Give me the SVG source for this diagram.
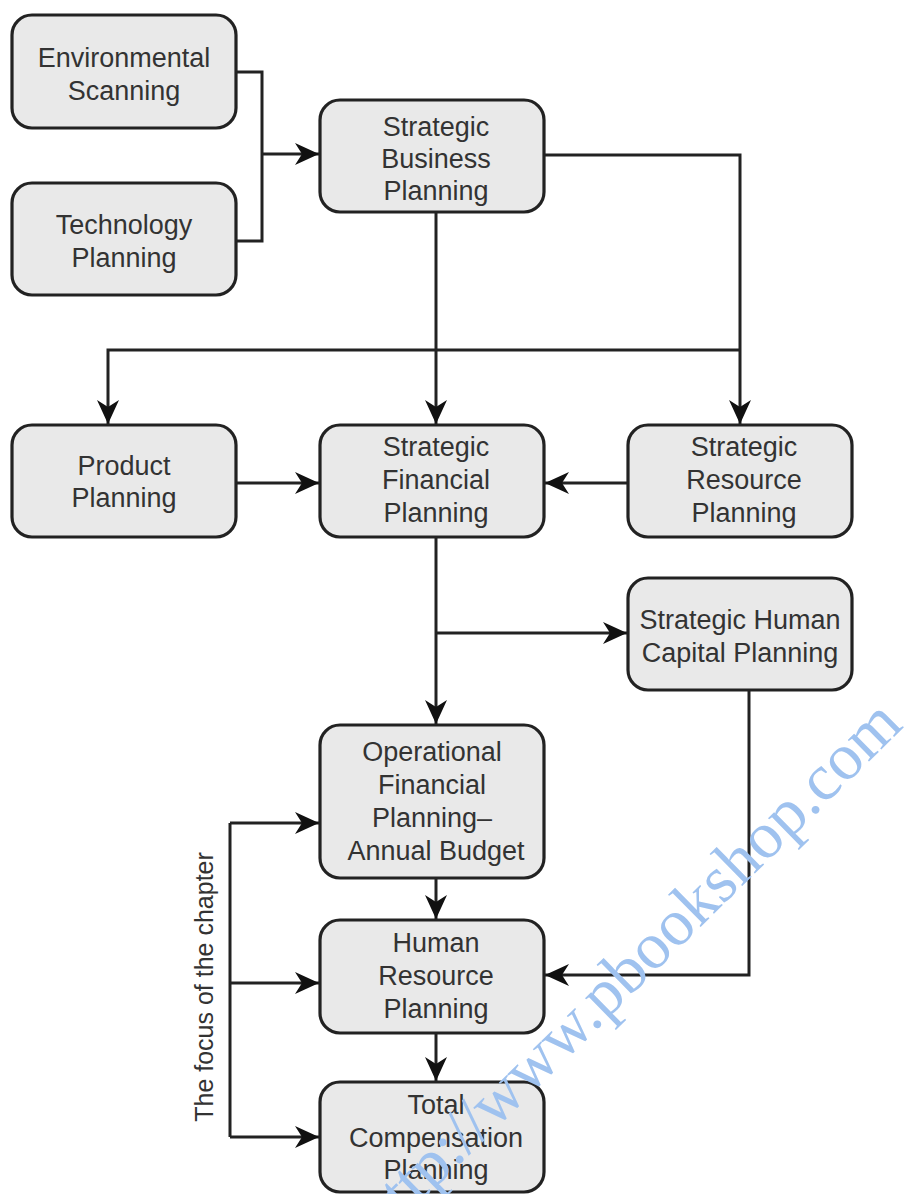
<svg xmlns="http://www.w3.org/2000/svg" width="904" height="1194" viewBox="0 0 904 1194">
<style>
.box{fill:#e9e9e9;stroke:#222;stroke-width:3.2}
.t{font-family:"Liberation Sans",Arial,sans-serif;font-size:27px;fill:#333;text-anchor:middle}
.c{fill:none;stroke:#222;stroke-width:3}
.wm{font-family:"Liberation Serif","Times New Roman",serif;font-size:66px;fill:#9fc2ef}
</style>
<defs>
<marker id="ah" markerUnits="userSpaceOnUse" markerWidth="26" markerHeight="24" refX="25" refY="12" orient="auto">
<path d="M1,1 L25,12 L1,23 L8,12 z" fill="#111"/>
</marker>
</defs>
<rect width="904" height="1194" fill="#fff"/>
<g id="connectors">
<path class="c" d="M236,72 H262 V241 H236"/>
<path class="c" d="M262,154 H319" marker-end="url(#ah)"/>
<path class="c" d="M436,212 V424" marker-end="url(#ah)"/>
<path class="c" d="M544,155 H740 V424" marker-end="url(#ah)"/>
<path class="c" d="M740,350 H108 V424" marker-end="url(#ah)"/>
<path class="c" d="M236,483 H319" marker-end="url(#ah)"/>
<path class="c" d="M628,483 H545" marker-end="url(#ah)"/>
<path class="c" d="M436,537 V724" marker-end="url(#ah)"/>
<path class="c" d="M436,633 H627" marker-end="url(#ah)"/>
<path class="c" d="M749,690 V975 H545" marker-end="url(#ah)"/>
<path class="c" d="M436,878 V919" marker-end="url(#ah)"/>
<path class="c" d="M436,1033 V1081" marker-end="url(#ah)"/>
<path class="c" d="M230,823 V1137"/>
<path class="c" d="M230,823 H319" marker-end="url(#ah)"/>
<path class="c" d="M230,983 H319" marker-end="url(#ah)"/>
<path class="c" d="M230,1137 H319" marker-end="url(#ah)"/>
</g>
<g id="env"><rect class="box" x="12" y="15" width="224" height="113" rx="20"/>
<text class="t" x="124" y="67">Environmental</text><text class="t" x="124" y="100">Scanning</text></g>
<g id="tech"><rect class="box" x="12" y="183" width="224" height="112" rx="20"/>
<text class="t" x="124" y="234">Technology</text><text class="t" x="124" y="267">Planning</text></g>
<g id="sbp"><rect class="box" x="320" y="100" width="224" height="112" rx="20"/>
<text class="t" x="436" y="136">Strategic</text><text class="t" x="436" y="168">Business</text><text class="t" x="436" y="200">Planning</text></g>
<g id="product"><rect class="box" x="12" y="425" width="224" height="112" rx="20"/>
<text class="t" x="124" y="475">Product</text><text class="t" x="124" y="507">Planning</text></g>
<g id="sfp"><rect class="box" x="320" y="425" width="224" height="112" rx="20"/>
<text class="t" x="436" y="456">Strategic</text><text class="t" x="436" y="489">Financial</text><text class="t" x="436" y="522">Planning</text></g>
<g id="srp"><rect class="box" x="628" y="425" width="224" height="112" rx="20"/>
<text class="t" x="744" y="456">Strategic</text><text class="t" x="744" y="489">Resource</text><text class="t" x="744" y="522">Planning</text></g>
<g id="shcp"><rect class="box" x="628" y="578" width="224" height="112" rx="20"/>
<text class="t" x="740" y="629">Strategic Human</text><text class="t" x="740" y="662">Capital Planning</text></g>
<g id="ofp"><rect class="box" x="320" y="725" width="224" height="153" rx="20"/>
<text class="t" x="432" y="761">Operational</text><text class="t" x="432" y="794">Financial</text><text class="t" x="432" y="827">Planning–</text><text class="t" x="436" y="860">Annual Budget</text></g>
<g id="hrp"><rect class="box" x="320" y="920" width="224" height="113" rx="20"/>
<text class="t" x="436" y="952">Human</text><text class="t" x="436" y="985">Resource</text><text class="t" x="436" y="1018">Planning</text></g>
<g id="tcp"><rect class="box" x="320" y="1082" width="224" height="110" rx="20"/>
<text class="t" x="436" y="1114">Total</text><text class="t" x="436" y="1147">Compensation</text><text class="t" x="436" y="1179">Planning</text></g>
<g id="focus"><text class="t" x="0" y="0" transform="translate(213,987) rotate(-90)" style="font-size:25px">The focus of the chapter</text></g>
<g id="watermark"><text class="wm" x="0" y="0" transform="translate(382,1240) rotate(-44.5)">http://www.pbookshop.com</text></g>
</svg>
